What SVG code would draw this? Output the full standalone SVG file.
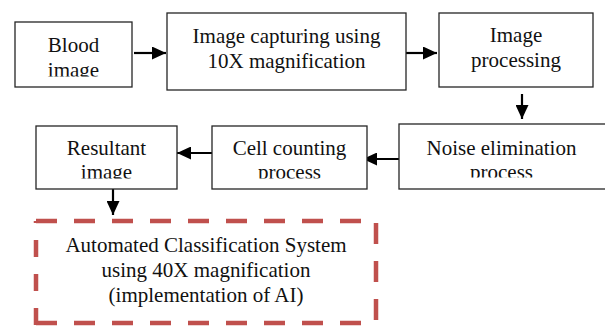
<svg xmlns="http://www.w3.org/2000/svg" width="605" height="326" viewBox="0 0 605 326">
  <style>
    .box { fill: #ffffff; stroke: #262626; stroke-width: 1.3; }
    .lbl { font-family: "Liberation Serif", "Times New Roman", serif; font-size: 21px; fill: #111111; text-anchor: middle; }
    .wire { stroke: #000000; stroke-width: 2.2; fill: none; }
    .dash { stroke: #c0504d; stroke-width: 4.5; fill: none; stroke-linecap: butt; }
  </style>
  <defs>
    <marker id="head" viewBox="0 0 14 13" refX="14" refY="6.5" markerWidth="14" markerHeight="13" markerUnits="userSpaceOnUse" orient="auto">
      <path d="M0,0 L14,6.5 L0,13 Z" fill="#000000"/>
    </marker>
    <!-- text areas: the lower line of the short boxes is cut off at its baseline -->
    <clipPath id="clipBlood"><rect x="15" y="22" width="117" height="54.5"/></clipPath>
    <clipPath id="clipResult"><rect x="36" y="126" width="141" height="52.5"/></clipPath>
    <clipPath id="clipCell"><rect x="212" y="126" width="155" height="52.5"/></clipPath>
    <clipPath id="clipNoise"><rect x="399" y="124" width="206" height="53.5"/></clipPath>
  </defs>

  <!-- connectors -->
  <g id="connectors">
    <line class="wire" x1="134" y1="53" x2="166" y2="53" marker-end="url(#head)"/>
    <line class="wire" x1="406" y1="53" x2="437" y2="53" marker-end="url(#head)"/>
    <line class="wire" x1="522" y1="94" x2="522" y2="119" marker-end="url(#head)"/>
    <line class="wire" x1="407" y1="159" x2="363" y2="159" marker-end="url(#head)"/>
    <line class="wire" x1="217" y1="153" x2="177" y2="153" marker-end="url(#head)"/>
    <line class="wire" x1="113" y1="189" x2="113" y2="215" marker-end="url(#head)"/>
  </g>

  <g id="blood-image">
    <rect class="box" x="15" y="22" width="117" height="65"/>
    <g clip-path="url(#clipBlood)">
      <text class="lbl" x="73.5" y="52">Blood</text>
      <text class="lbl" x="73.5" y="77">image</text>
    </g>
  </g>

  <g id="image-capturing">
    <rect class="box" x="167" y="13" width="239" height="77"/>
    <text class="lbl" x="286.5" y="43">Image capturing using</text>
    <text class="lbl" x="286.5" y="68">10X magnification</text>
  </g>

  <g id="image-processing">
    <rect class="box" x="439" y="13" width="154" height="74"/>
    <text class="lbl" x="516" y="42">Image</text>
    <text class="lbl" x="516" y="67">processing</text>
  </g>

  <g id="noise-elimination">
    <rect class="box" x="399" y="124" width="210" height="65"/>
    <g clip-path="url(#clipNoise)">
      <text class="lbl" x="501.5" y="155">Noise elimination</text>
      <text class="lbl" x="501.5" y="179">process</text>
    </g>
  </g>

  <g id="cell-counting">
    <rect class="box" x="212" y="126" width="155" height="63"/>
    <g clip-path="url(#clipCell)">
      <text class="lbl" x="289.5" y="155">Cell counting</text>
      <text class="lbl" x="289.5" y="179">process</text>
    </g>
  </g>

  <g id="resultant-image">
    <rect class="box" x="36" y="126" width="141" height="63"/>
    <g clip-path="url(#clipResult)">
      <text class="lbl" x="106.5" y="155">Resultant</text>
      <text class="lbl" x="106.5" y="179">image</text>
    </g>
  </g>

  <g id="classification-system">
    <!-- dashed outline, each side drawn with its own dash phase -->
    <line class="dash" x1="36" y1="221" x2="376" y2="221" stroke-dasharray="21 17"/>
    <line class="dash" x1="376" y1="223" x2="376" y2="322" stroke-dasharray="21 17"/>
    <line class="dash" x1="36" y1="323" x2="376" y2="323" stroke-dasharray="21 17"/>
    <line class="dash" x1="36" y1="325" x2="36" y2="221" stroke-dasharray="17 17"/>
    <text class="lbl" x="206" y="252">Automated Classification System</text>
    <text class="lbl" x="206" y="277">using 40X magnification</text>
    <text class="lbl" x="206" y="302">(implementation of AI)</text>
  </g>
</svg>
